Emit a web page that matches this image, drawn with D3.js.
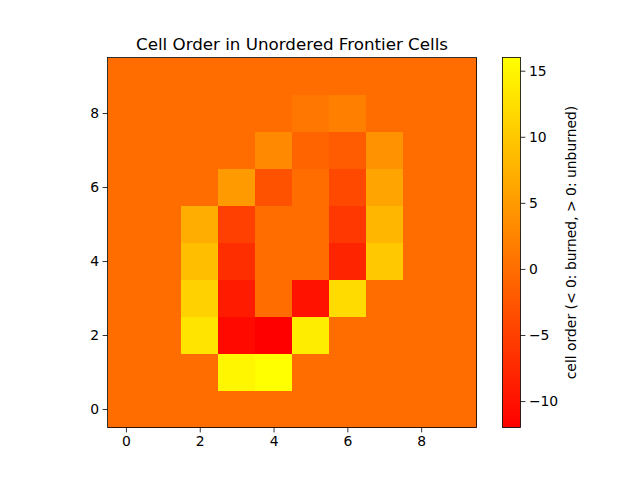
<!DOCTYPE html>
<html><head><meta charset="utf-8">
<script src="https://cdn.jsdelivr.net/npm/d3@7"></script>
<style>body{margin:0;background:#fff}svg{display:block;font-family:"DejaVu Sans",sans-serif}</style>
</head><body><svg id="c" width="640" height="480"></svg>
<script>
// rows listed from y=0 (bottom) to y=9 (top); columns x=0..9
const row0 = [0,0,0,0,0,0,0,0,0,0];
const row1 = [0,0,0,15,16,0,0,0,0,0];
const row2 = [0,0,13,-11,-12,14,0,0,0,0];
const row3 = [0,0,11,-9,0,-10,12,0,0,0];
const row4 = [0,0,9,-7,0,0,-8,10,0,0];
const row5 = [0,0,7,-5,0,0,-6,8,0,0];
const row6 = [0,0,0,5,-3,0,-4,6,0,0];
const row7 = [0,0,0,0,3,-1,-2,4,0,0];
const row8 = [0,0,0,0,0,1,2,0,0,0];
const row9 = [0,0,0,0,0,0,0,0,0,0];
const grid = [row0,row1,row2,row3,row4,row5,row6,row7,row8,row9];
const xTicks = [0,2,4,6,8];
const yTicks = [0,2,4,6,8];
const cbTicks = [-10,-5,0,5,10,15];
const vmin = -12, vmax = 16;
const title = "Cell Order in Unordered Frontier Cells";
const cbLabel = "cell order (< 0: burned, > 0: unburned)";

const svg = d3.select("#c");
const L=107.5, R=476.5, T=57.5, B=427.5;
const x = d3.scaleLinear().domain([-0.5,9.5]).range([L,R]);
const y = d3.scaleLinear().domain([-0.5,9.5]).range([B,T]);
const color = v => d3.rgb(255, Math.round((v-vmin)/(vmax-vmin)*255), 0).toString();

const cells = [];
grid.forEach((r,yi)=>r.forEach((v,xi)=>cells.push({x:xi,y:yi,v})));
svg.append("g").selectAll("rect").data(cells).join("rect")
  .attr("x",d=>x(d.x-0.5)).attr("y",d=>y(d.y+0.5))
  .attr("width",d=>x(d.x+0.5)-x(d.x-0.5)+0.3).attr("height",d=>y(d.y-0.5)-y(d.y+0.5)+0.3)
  .attr("fill",d=>color(d.v)).attr("shape-rendering","crispEdges");

const fmt = d => d<0 ? "\u2212"+Math.abs(d) : String(d);
const xa = svg.append("g").attr("transform",`translate(0,${B})`)
  .call(d3.axisBottom(x).tickValues(xTicks).tickSize(4.9).tickPadding(3.5).tickFormat(fmt));
const ya = svg.append("g").attr("transform",`translate(${L},0)`)
  .call(d3.axisLeft(y).tickValues(yTicks).tickSize(4.9).tickPadding(3.5).tickFormat(fmt));
[xa,ya].forEach(a=>{a.select(".domain").remove();a.selectAll("text").attr("font-size",13.9).attr("fill","#000").attr("font-family","DejaVu Sans");a.selectAll("line").attr("stroke","#000").attr("stroke-width",0.8);});
svg.append("rect").attr("x",L).attr("y",T).attr("width",R-L).attr("height",B-T)
  .attr("fill","none").attr("stroke","#000").attr("stroke-width",0.8);

svg.append("text").attr("x",(L+R)/2).attr("y",50).attr("text-anchor","middle")
  .attr("font-size",16.7).attr("fill","#000").text(title);

// colorbar
const cL=502.5, cR=520.5;
const cy = d3.scaleLinear().domain([vmin,vmax]).range([B,T]);
const defs = svg.append("defs");
const grad = defs.append("linearGradient").attr("id","g").attr("x1",0).attr("y1",1).attr("x2",0).attr("y2",0);
grad.append("stop").attr("offset",0).attr("stop-color",color(vmin));
grad.append("stop").attr("offset",1).attr("stop-color",color(vmax));
svg.append("rect").attr("x",cL).attr("y",T).attr("width",cR-cL).attr("height",B-T).attr("fill","url(#g)");
const ca = svg.append("g").attr("transform",`translate(${cR},0)`)
  .call(d3.axisRight(cy).tickValues(cbTicks).tickSize(4.9).tickPadding(3.5).tickFormat(fmt));
ca.select(".domain").remove();
ca.selectAll("text").attr("font-size",13.9).attr("fill","#000").attr("font-family","DejaVu Sans");
ca.selectAll("line").attr("stroke","#000").attr("stroke-width",0.8);
svg.append("rect").attr("x",cL).attr("y",T).attr("width",cR-cL).attr("height",B-T)
  .attr("fill","none").attr("stroke","#000").attr("stroke-width",0.8);
svg.append("text").attr("transform",`translate(576,${(T+B)/2}) rotate(-90)`).attr("text-anchor","middle")
  .attr("font-size",13.9).attr("fill","#000").text(cbLabel);
</script></body></html>
